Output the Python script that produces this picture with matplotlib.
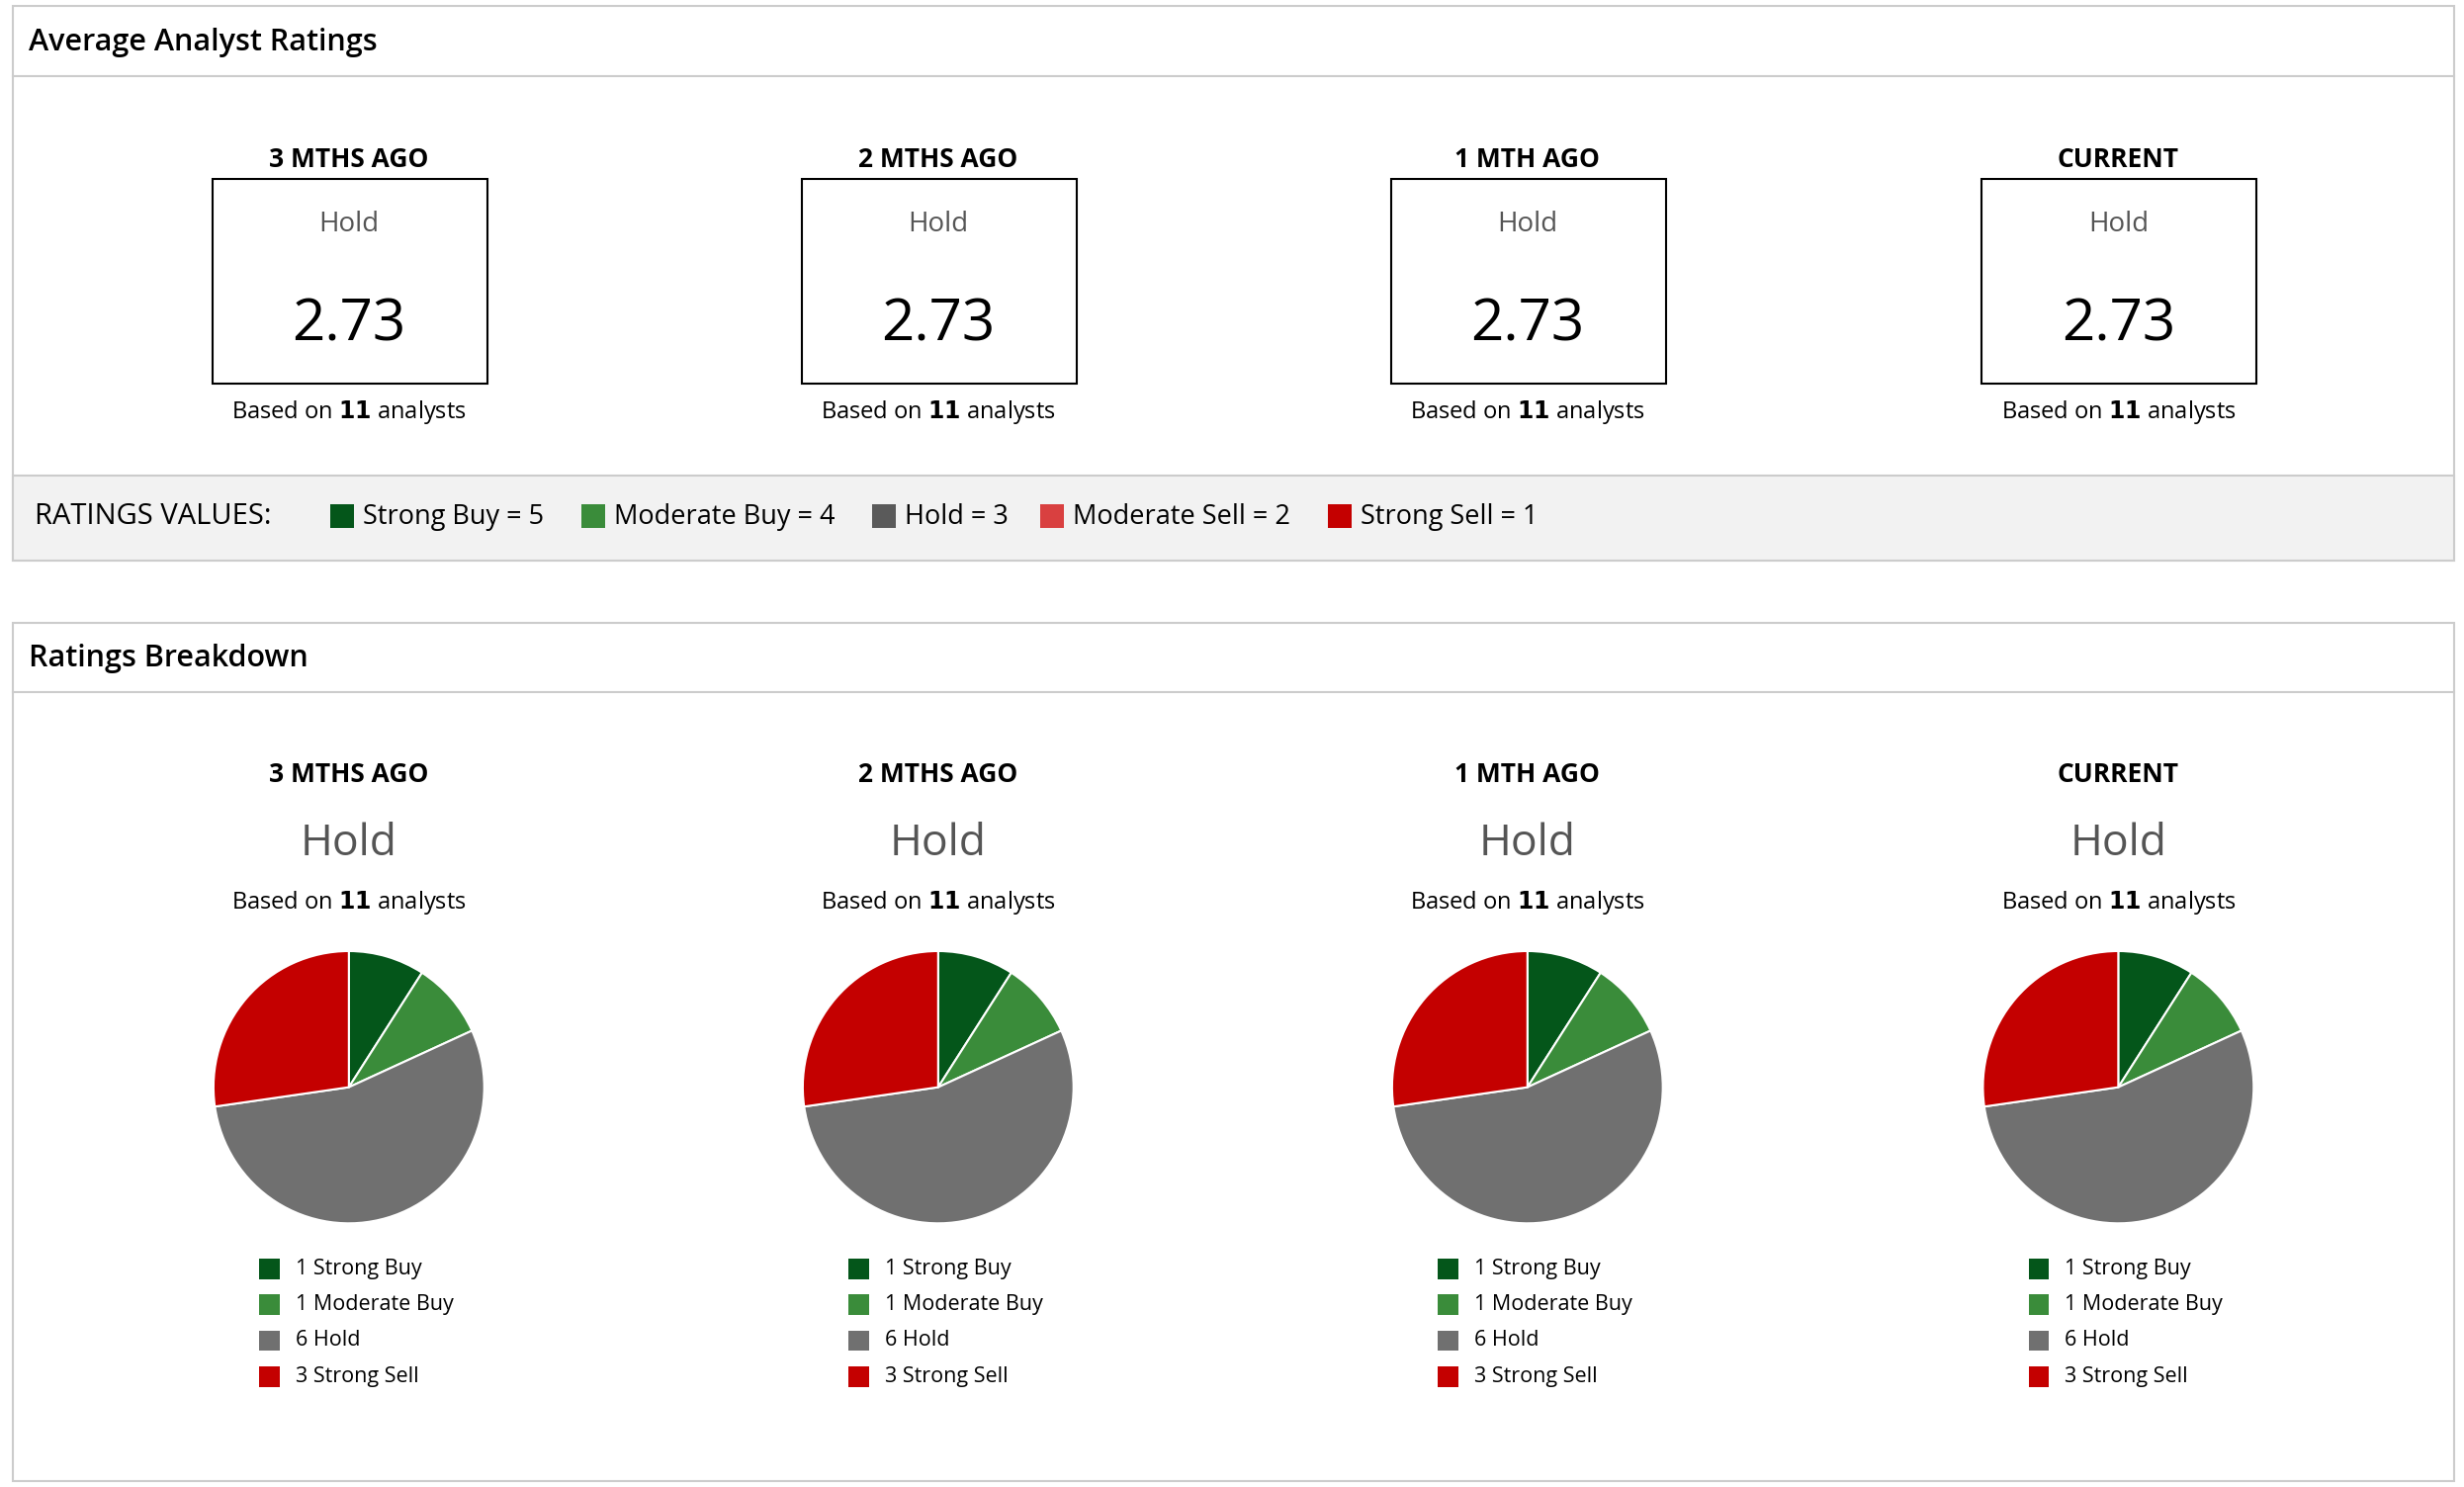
import matplotlib.pyplot as plt
from matplotlib.patches import Rectangle

plt.rcParams['font.family'] = ['Open Sans', 'DejaVu Sans']

periods = ["3 MTHS AGO", "2 MTHS AGO", "1 MTH AGO", "CURRENT"]
avg_rating = [2.73, 2.73, 2.73, 2.73]
rating_text = ["Hold", "Hold", "Hold", "Hold"]
n_analysts = [11, 11, 11, 11]

scale_labels = ["Strong Buy = 5", "Moderate Buy = 4", "Hold = 3", "Moderate Sell = 2", "Strong Sell = 1"]
scale_colors = ["#04561a", "#3a8c3a", "#5a5a5a", "#d94040", "#c40000"]

slice_labels = ["Strong Buy", "Moderate Buy", "Hold", "Strong Sell"]
slice_colors = ["#04561a", "#3a8c3a", "#707070", "#c40000"]
counts = [[1, 1, 6, 3], [1, 1, 6, 3], [1, 1, 6, 3], [1, 1, 6, 3]]

W, H = 1568, 941
fig = plt.figure(figsize=(24.92, 15.04), dpi=100)
bg = fig.add_axes([0, 0, 1, 1])
bg.set_xlim(0, W)
bg.set_ylim(H, 0)
bg.axis('off')

edge = "#cccccc"
# top panel
bg.add_patch(Rectangle((8, 4), 1554, 351, fill=False, ec=edge, lw=1.5))
bg.plot([8, 1562], [48, 48], color=edge, lw=1.5)
bg.add_patch(Rectangle((8, 301), 1554, 54, fc="#f2f2f2", ec=edge, lw=1.5))
bg.text(18, 27, "Average Analyst Ratings", fontsize=22, fontweight='semibold', va='center')
# bottom panel
bg.add_patch(Rectangle((8, 394), 1554, 543, fill=False, ec=edge, lw=1.5))
bg.plot([8, 1562], [438, 438], color=edge, lw=1.5)
bg.text(18, 417, "Ratings Breakdown", fontsize=22, fontweight='semibold', va='center')

centers = [222, 597, 972, 1348]

for i, cx in enumerate(centers):
    bg.text(cx, 101, periods[i], fontsize=19, fontweight='bold', ha='center', va='center')
    bg.add_patch(Rectangle((cx - 87, 113), 175, 130, fill=False, ec='black', lw=1.5))
    bg.text(cx, 142, rating_text[i], fontsize=20, color='#555555', ha='center', va='center')
    bg.text(cx, 206, f"{avg_rating[i]:.2f}", fontsize=42, ha='center', va='center')
    bg.text(cx, 261, f"Based on $\\bf{{{n_analysts[i]}}}$ analysts", fontsize=17, ha='center', va='center')

    bg.text(cx, 490, periods[i], fontsize=19, fontweight='bold', ha='center', va='center')
    bg.text(cx, 534, rating_text[i], fontsize=32, color='#555555', ha='center', va='center')
    bg.text(cx, 571, f"Based on $\\bf{{{n_analysts[i]}}}$ analysts", fontsize=17, ha='center', va='center')

    r = 87
    ax = fig.add_axes([(cx - r) / W, 1 - (688 + r) / H, 2 * r / W, 2 * r / H])
    ax.pie(counts[i], colors=slice_colors, startangle=90, counterclock=False,
           wedgeprops=dict(edgecolor='white', linewidth=1.5))
    ax.set_aspect('auto')
    ax.set_xlim(-1.01, 1.01)
    ax.set_ylim(-1.01, 1.01)

    for j, lab in enumerate(slice_labels):
        y = 803 + j * 22.7
        bg.add_patch(Rectangle((cx - 57, y - 6.5), 13, 13, fc=slice_colors[j], ec='none'))
        bg.text(cx - 34, y, f"{counts[i][j]} {lab}", fontsize=15.5, va='center')

# ratings values legend
bg.text(22, 327, "RATINGS VALUES:", fontsize=21, va='center')
xs = [210, 370, 555, 662, 845]
for x, lab, c in zip(xs, scale_labels, scale_colors):
    bg.add_patch(Rectangle((x, 319), 15, 15, fc=c, ec='none'))
    bg.text(x + 21, 327, lab, fontsize=19.5, va='center')

fig.savefig("out.png", dpi=100)
